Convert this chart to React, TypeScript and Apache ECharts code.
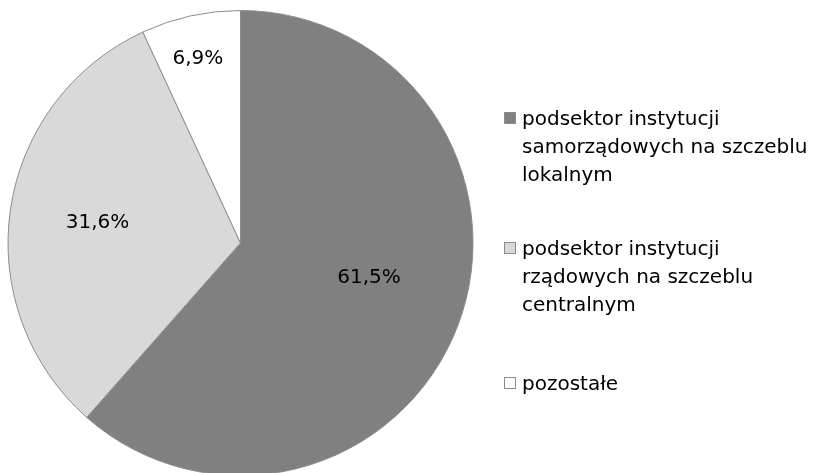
import React, { useEffect, useRef } from "react";
import * as echarts from "echarts";

const categories = [
  "podsektor instytucji\nsamorządowych na szczeblu\nlokalnym",
  "podsektor instytucji\nrządowych na szczeblu\ncentralnym",
  "pozostałe",
];
const values = [61.5, 31.6, 6.9];
const labels = ["61,5%", "31,6%", "6,9%"];
const colors = ["#808080", "#d9d9d9", "#ffffff"];
const labelShift = [
  [17, -9],
  [-25, -5],
  [-17, -70],
];

const FONT = "'DejaVu Sans', Verdana, sans-serif";
const LH = 28;

export default function App() {
  const ref = useRef<HTMLDivElement>(null);
  useEffect(() => {
    if (!ref.current) return;
    const chart = echarts.init(ref.current, undefined, { renderer: "svg" });
    const legendTops = [104, 234, 369];
    const legends = categories.map((name, i) => ({
      orient: "vertical",
      left: 500,
      top: legendTops[i],
      padding: 0,
      itemWidth: 0,
      itemHeight: 0,
      icon: "none",
      selectedMode: false,
      data: [name],
      formatter: (n: string) =>
        n
          .split("\n")
          .map((line, k) =>
            k === 0 ? `{m|}{g|}{t|${line}}` : `{s|}{t|${line}}`
          )
          .join("\n"),
      textStyle: {
        fontFamily: FONT,
        fontSize: 20,
        lineHeight: LH,
        color: "#000",
        rich: {
          m: {
            width: 10,
            height: 10,
            backgroundColor: colors[i],
            borderColor: "#8c8c8c",
            borderWidth: 1,
          },
          g: { width: 7 },
          s: { width: 17 },
          t: {
            fontFamily: FONT,
            fontSize: 20,
            lineHeight: LH,
            color: "#000",
          },
        },
      },
    }));
    chart.setOption({
      animation: false,
      legend: legends,
      series: [
        {
          type: "pie",
          center: [240.5, 243],
          radius: 232.5,
          startAngle: 90,
          clockwise: true,
          avoidLabelOverlap: false,
          itemStyle: { borderColor: "#8c8c8c", borderWidth: 1 },
          emphasis: { disabled: true },
          label: {
            show: true,
            position: "inside",
            fontFamily: FONT,
            fontSize: 20,
            color: "#000",
            formatter: (p: any) => labels[p.dataIndex],
          },
          labelLine: { show: false },
          labelLayout: (p: any) => ({
            dx: labelShift[p.dataIndex][0],
            dy: labelShift[p.dataIndex][1],
          }),
          data: categories.map((name, i) => ({
            name,
            value: values[i],
            itemStyle: { color: colors[i] },
          })),
        },
      ],
    });
    return () => chart.dispose();
  }, []);
  return (
    <div
      ref={ref}
      style={{ position: "fixed", left: 0, top: 0, width: 826, height: 473 }}
    />
  );
}
